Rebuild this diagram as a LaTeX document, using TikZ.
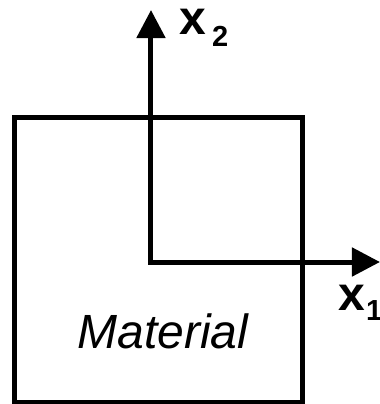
\documentclass[tikz,border=0pt]{standalone}
\usepackage{fontspec}
\setmainfont{Liberation Sans}
\usetikzlibrary{arrows.meta}

\begin{document}
\begin{tikzpicture}[x=0.5pt, y=-0.5pt, line width=2.5pt,
                    line join=miter,
                    axis/.style={{Triangle[length=14pt, width=14pt]}-{Triangle[length=14pt, width=14pt]}},
                    axislabel/.style={anchor=base west, inner sep=0pt, font=\fontsize{24}{26}\selectfont\bfseries}]
  \useasboundingbox (0,0) rectangle (380,404);

  % Material block
  \draw (14.5,117.5) rectangle (302.5,402);
  \node[anchor=base west, inner sep=0pt, font=\fontsize{24}{28}\selectfont\itshape]
    (mat) at (75,348) {Material};

  % Axes: origin and tips
  \coordinate (o)  at (151,262);
  \coordinate (e2) at (151,10);
  \coordinate (e1) at (380,262);
  \draw[axis] (e2) -- (o) -- (e1);

  % Labels
  \node[axislabel] (x2) at (177,34)
    {x\hspace{3pt}\raisebox{-6pt}{\fontsize{14.5}{17}\selectfont 2}};
  \node[axislabel] (x1) at (336,310)
    {x\hspace{0.5pt}\raisebox{-5pt}{\fontsize{14.5}{17}\selectfont 1}};
\end{tikzpicture}
\end{document}
